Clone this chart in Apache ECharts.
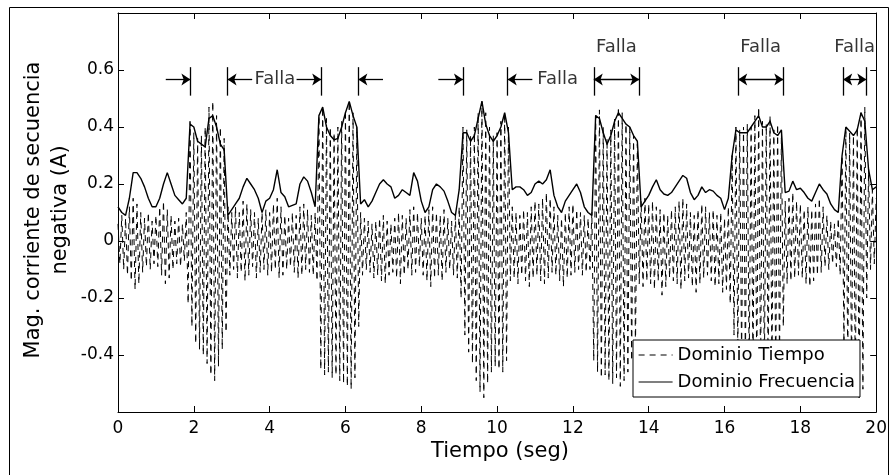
<!DOCTYPE html>
<html>
<head>
<meta charset="utf-8">
<script src="https://cdn.jsdelivr.net/npm/echarts@6/dist/echarts.min.js"></script>
<style>
  html, body { margin: 0; background: #fff; }
  #chart { width: 890px; height: 475px; }
</style>
</head>
<body>
<div id="chart"></div>
<script>
// sampling step of the read-off curves (seconds)
const step = 0.1;

// time-domain signal: upper peaks at t = 0, 0.1, ... 20 (10 per row = 1 s)
const tdHi = [
  0.06, 0.09, 0.08, 0.12, 0.15, 0.13, 0.10, 0.08, 0.10, 0.07,
  0.09, 0.12, 0.14, 0.11, 0.09, 0.07, 0.08, 0.06, 0.10, 0.42,
  0.38, 0.36, 0.37, 0.40, 0.47, 0.49, 0.44, 0.40, 0.36, 0.12,
  0.10, 0.12, 0.10, 0.14, 0.13, 0.11, 0.10, 0.08, 0.10, 0.11,
  0.10, 0.13, 0.15, 0.12, 0.09, 0.08, 0.10, 0.09, 0.12, 0.13,
  0.11, 0.09, 0.10, 0.44, 0.47, 0.43, 0.40, 0.38, 0.40, 0.42,
  0.46, 0.49, 0.45, 0.40, 0.10, 0.08, 0.07, 0.06, 0.07, 0.08,
  0.09, 0.07, 0.06, 0.08, 0.10, 0.09, 0.08, 0.11, 0.12, 0.10,
  0.08, 0.09, 0.11, 0.12, 0.10, 0.09, 0.11, 0.08, 0.07, 0.09,
  0.12, 0.40, 0.39, 0.37, 0.40, 0.45, 0.49, 0.45, 0.40, 0.37,
  0.38, 0.42, 0.45, 0.40, 0.12, 0.10, 0.09, 0.11, 0.10, 0.12,
  0.14, 0.13, 0.15, 0.17, 0.15, 0.12, 0.09, 0.08, 0.10, 0.12,
  0.13, 0.11, 0.10, 0.09, 0.08, 0.10, 0.44, 0.46, 0.40, 0.36,
  0.39, 0.43, 0.47, 0.45, 0.41, 0.40, 0.37, 0.34, 0.14, 0.15,
  0.13, 0.14, 0.12, 0.11, 0.10, 0.09, 0.11, 0.12, 0.14, 0.15,
  0.13, 0.10, 0.09, 0.11, 0.13, 0.12, 0.10, 0.11, 0.09, 0.10,
  0.08, 0.12, 0.30, 0.40, 0.39, 0.40, 0.41, 0.40, 0.44, 0.47,
  0.42, 0.41, 0.44, 0.39, 0.41, 0.38, 0.14, 0.15, 0.17, 0.14,
  0.13, 0.11, 0.12, 0.11, 0.13, 0.15, 0.12, 0.09, 0.07, 0.06,
  0.08, 0.30, 0.40, 0.38, 0.37, 0.40, 0.45, 0.47, 0.25, 0.18,
  0.15
];

// time-domain signal: lower peaks at t = 0.05, 0.15, ... 19.95
const tdLo = [
  -0.08, -0.10, -0.12, -0.14, -0.17, -0.15, -0.11, -0.09, -0.10, -0.08,
  -0.09, -0.12, -0.15, -0.13, -0.10, -0.08, -0.09, -0.07, -0.22, -0.30,
  -0.36, -0.38, -0.40, -0.43, -0.47, -0.49, -0.44, -0.38, -0.32, -0.12,
  -0.10, -0.13, -0.11, -0.14, -0.12, -0.09, -0.13, -0.11, -0.10, -0.12,
  -0.11, -0.10, -0.13, -0.12, -0.10, -0.09, -0.11, -0.13, -0.12, -0.10,
  -0.11, -0.12, -0.14, -0.45, -0.47, -0.46, -0.48, -0.47, -0.49, -0.50,
  -0.51, -0.52, -0.48, -0.30, -0.12, -0.10, -0.11, -0.13, -0.12, -0.14,
  -0.15, -0.12, -0.11, -0.13, -0.15, -0.12, -0.10, -0.12, -0.11, -0.09,
  -0.12, -0.14, -0.16, -0.13, -0.12, -0.14, -0.11, -0.10, -0.12, -0.13,
  -0.20, -0.33, -0.39, -0.43, -0.49, -0.53, -0.55, -0.50, -0.46, -0.44,
  -0.45, -0.46, -0.42, -0.14, -0.13, -0.15, -0.12, -0.14, -0.16, -0.13,
  -0.12, -0.14, -0.15, -0.13, -0.11, -0.12, -0.14, -0.16, -0.13, -0.12,
  -0.11, -0.10, -0.12, -0.11, -0.10, -0.42, -0.46, -0.48, -0.47, -0.49,
  -0.50, -0.48, -0.51, -0.49, -0.46, -0.42, -0.38, -0.15, -0.16, -0.14,
  -0.15, -0.17, -0.14, -0.19, -0.16, -0.13, -0.14, -0.15, -0.17, -0.14,
  -0.13, -0.16, -0.18, -0.15, -0.13, -0.12, -0.14, -0.16, -0.15, -0.18,
  -0.17, -0.22, -0.33, -0.38, -0.41, -0.43, -0.44, -0.45, -0.46, -0.47,
  -0.46, -0.45, -0.44, -0.46, -0.42, -0.30, -0.15, -0.14, -0.13, -0.12,
  -0.13, -0.15, -0.16, -0.14, -0.12, -0.11, -0.09, -0.10, -0.08, -0.09,
  -0.12, -0.36, -0.42, -0.46, -0.50, -0.55, -0.52, -0.20, -0.10, -0.08
];

// frequency-domain magnitude at t = 0, 0.1, ... 20
const fd = [
  0.12, 0.10, 0.09, 0.15, 0.24, 0.24, 0.22, 0.19, 0.15, 0.12,
  0.12, 0.15, 0.20, 0.24, 0.20, 0.16, 0.145, 0.13, 0.15, 0.41,
  0.40, 0.35, 0.34, 0.33, 0.43, 0.44, 0.40, 0.34, 0.32, 0.09,
  0.11, 0.13, 0.15, 0.19, 0.22, 0.20, 0.18, 0.15, 0.10, 0.14,
  0.15, 0.18, 0.25, 0.17, 0.155, 0.12, 0.125, 0.13, 0.20, 0.225,
  0.21, 0.17, 0.12, 0.44, 0.47, 0.40, 0.37, 0.355, 0.36, 0.40,
  0.45, 0.49, 0.44, 0.40, 0.13, 0.145, 0.12, 0.14, 0.17, 0.20,
  0.215, 0.20, 0.19, 0.15, 0.16, 0.18, 0.17, 0.16, 0.24, 0.21,
  0.14, 0.10, 0.12, 0.18, 0.20, 0.19, 0.175, 0.14, 0.10, 0.09,
  0.18, 0.38, 0.38, 0.35, 0.37, 0.43, 0.49, 0.41, 0.37, 0.35,
  0.37, 0.40, 0.45, 0.38, 0.18, 0.19, 0.19, 0.18, 0.16, 0.17,
  0.20, 0.21, 0.20, 0.215, 0.25, 0.16, 0.12, 0.10, 0.14, 0.16,
  0.18, 0.20, 0.17, 0.12, 0.10, 0.09, 0.44, 0.43, 0.38, 0.34,
  0.37, 0.42, 0.45, 0.43, 0.41, 0.40, 0.37, 0.35, 0.12, 0.14,
  0.16, 0.19, 0.215, 0.18, 0.165, 0.16, 0.17, 0.19, 0.21, 0.23,
  0.22, 0.17, 0.145, 0.16, 0.19, 0.17, 0.18, 0.175, 0.16, 0.15,
  0.11, 0.15, 0.30, 0.39, 0.38, 0.38, 0.38, 0.40, 0.42, 0.44,
  0.40, 0.40, 0.42, 0.38, 0.37, 0.39, 0.17, 0.175, 0.21, 0.18,
  0.185, 0.17, 0.15, 0.14, 0.17, 0.20, 0.18, 0.165, 0.13, 0.11,
  0.10, 0.30, 0.40, 0.385, 0.37, 0.39, 0.45, 0.42, 0.25, 0.18,
  0.19
];

// fault intervals [start, end] in seconds
const faults = [
  [1.91, 2.89], [5.36, 6.34], [9.10, 10.28],
  [12.55, 13.75], [16.36, 17.55], [19.13, 19.74]
];
// where the "Falla" words sit [t, y]
const fallaText = [[4.14, 0.567], [11.6, 0.567], [13.15, 0.68], [16.95, 0.68], [19.43, 0.68]];

const xTickLabels = [0, 2, 4, 6, 8, 10, 12, 14, 16, 18, 20];
const yTickLabels = [-0.4, -0.2, 0, 0.2, 0.4, 0.6];

const FONT = '"DejaVu Sans", sans-serif';

// build the series
const tdData = [];
for (let i = 0; i < tdLo.length; i++) {
  tdData.push([+(i * step).toFixed(2), tdHi[i]]);
  tdData.push([+(i * step + step / 2).toFixed(2), tdLo[i]]);
}
tdData.push([+(tdLo.length * step).toFixed(2), tdHi[tdLo.length]]);
const fdData = fd.map((v, i) => [+(i * step).toFixed(2), v]);

// fault markers: bars + arrows
const barLo = 0.51, barHi = 0.61, arrowY = 0.567, arrowLen = 0.65;
const marks = [];
faults.forEach(([s, e], k) => {
  marks.push([{ coord: [s, barLo] }, { coord: [s, barHi] }]);
  marks.push([{ coord: [e, barLo] }, { coord: [e, barHi] }]);
  if (k < 3) {
    marks.push([{ coord: [s - arrowLen, arrowY] }, { coord: [s, arrowY], symbol: 'arrow' }]);
    marks.push([{ coord: [e + arrowLen, arrowY] }, { coord: [e, arrowY], symbol: 'arrow' }]);
  } else {
    marks.push([{ coord: [s, arrowY], symbol: 'arrow' }, { coord: [e, arrowY], symbol: 'arrow' }]);
  }
});

const chart = echarts.init(document.getElementById('chart'), null, { renderer: 'canvas' });

function baseAxis(pos) {
  return {
    type: 'value',
    position: pos,
    axisLine: { onZero: false, lineStyle: { color: '#000', width: 1 } },
    axisTick: { inside: true, length: 6, lineStyle: { color: '#000' } },
    splitLine: { show: false }
  };
}

chart.setOption({
  animation: false,
  backgroundColor: '#fff',
  grid: { left: 118, right: 8, top: 13, bottom: 63 },
  xAxis: [
    Object.assign(baseAxis('bottom'), {
      min: 0, max: 20, interval: 2,
      axisLabel: {
        color: '#000', fontSize: 17, fontFamily: FONT, margin: 8,
        formatter: (v) => (xTickLabels.indexOf(v) >= 0 ? String(v) : '')
      }
    }),
    Object.assign(baseAxis('top'), { min: 0, max: 20, interval: 2, axisLabel: { show: false } })
  ],
  yAxis: [
    Object.assign(baseAxis('left'), {
      min: -0.6, max: 0.8, interval: 0.2,
      axisLabel: {
        color: '#000', fontSize: 17, fontFamily: FONT, margin: 4,
        formatter: (v) => (yTickLabels.some((t) => Math.abs(t - v) < 1e-6) ? String(Math.round(v * 10) / 10) : '')
      }
    }),
    Object.assign(baseAxis('right'), { min: -0.6, max: 0.8, interval: 0.2, axisLabel: { show: false } })
  ],
  legend: {
    data: ['Dominio Tiempo', 'Dominio Frecuencia'],
    orient: 'vertical',
    left: 633,
    top: 340,
    padding: [5, 5, 5, 5],
    itemGap: 7,
    itemWidth: 34,
    itemHeight: 14,
    backgroundColor: '#fff',
    borderColor: '#000',
    borderWidth: 1,
    itemStyle: { opacity: 0 },
    lineStyle: { width: 1.2 },
    textStyle: { fontSize: 18, fontFamily: FONT, color: '#000', lineHeight: 20 }
  },
  graphic: [
    {
      type: 'rect', silent: true, z: -1,
      shape: { x: 9.5, y: 7.5, width: 879, height: 500 },
      style: { fill: 'none', stroke: '#000', lineWidth: 1 }
    },
    {
      type: 'text', silent: true, x: 47, y: 210, rotation: Math.PI / 2,
      style: {
        text: 'Mag. corriente de secuencia\nnegativa (A)',
        font: '21px ' + FONT, fill: '#000', align: 'center', verticalAlign: 'middle', lineHeight: 27
      }
    },
    {
      type: 'text', silent: true, x: 500, y: 452,
      style: { text: 'Tiempo (seg)', font: '21px ' + FONT, fill: '#000', align: 'center', verticalAlign: 'middle' }
    }
  ],
  series: [
    {
      name: 'Dominio Tiempo',
      type: 'line',
      data: tdData,
      symbol: 'none',
      showSymbol: false,
      itemStyle: { color: '#000' },
      lineStyle: { color: '#000', width: 1, type: [6, 5] },
      z: 2
    },
    {
      name: 'Dominio Frecuencia',
      type: 'line',
      data: fdData,
      symbol: 'none',
      showSymbol: false,
      itemStyle: { color: '#000' },
      lineStyle: { color: '#000', width: 1.4 },
      z: 3
    },
    {
      type: 'line',
      data: [],
      markLine: {
        silent: true,
        animation: false,
        symbol: ['none', 'none'],
        symbolSize: 9,
        label: { show: false },
        lineStyle: { color: '#000', width: 1.3, type: 'solid' },
        emphasis: { disabled: true },
        data: marks
      }
    },
    {
      type: 'scatter',
      data: fallaText,
      symbolSize: 1,
      silent: true,
      itemStyle: { color: 'rgba(0,0,0,0)' },
      label: {
        show: true, position: 'inside', formatter: 'Falla',
        color: '#000', fontSize: 18, fontFamily: FONT
      },
      z: 5
    }
  ]
});
</script>
</body>
</html>
